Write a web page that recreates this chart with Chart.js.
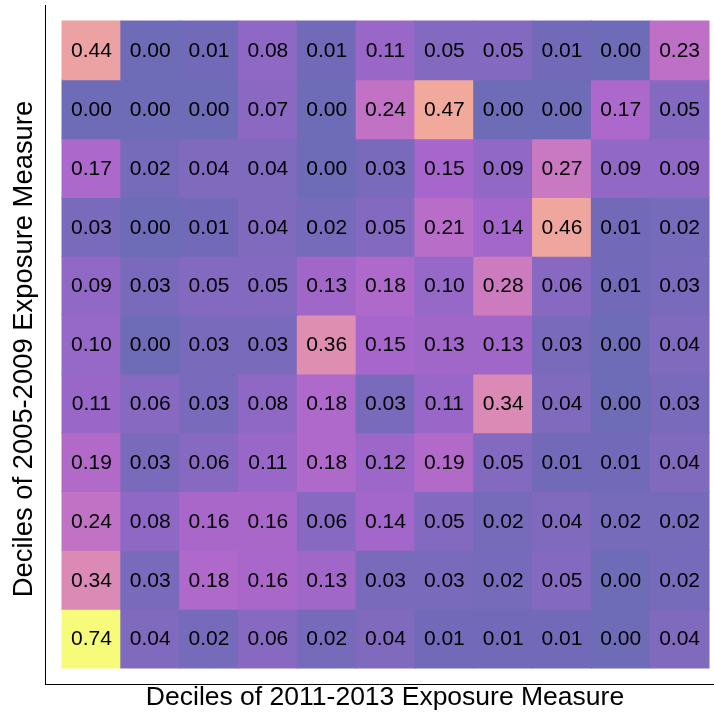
<!DOCTYPE html>
<html>
<head>
<meta charset="utf-8">
<script src="https://cdn.jsdelivr.net/npm/chart.js@4"></script>
<style>
html,body{margin:0;padding:0;background:#fff;}
#wrap{width:714px;height:713px;}
</style>
</head>
<body>
<div id="wrap"><canvas id="heat"></canvas></div>
<script>
/* DATA - rows listed top to bottom, columns left to right */
const cols=['1','2','3','4','5','6','7','8','9','10','11'];
const row1=[0.44,0.00,0.01,0.08,0.01,0.11,0.05,0.05,0.01,0.00,0.23];
const row2=[0.00,0.00,0.00,0.07,0.00,0.24,0.47,0.00,0.00,0.17,0.05];
const row3=[0.17,0.02,0.04,0.04,0.00,0.03,0.15,0.09,0.27,0.09,0.09];
const row4=[0.03,0.00,0.01,0.04,0.02,0.05,0.21,0.14,0.46,0.01,0.02];
const row5=[0.09,0.03,0.05,0.05,0.13,0.18,0.10,0.28,0.06,0.01,0.03];
const row6=[0.10,0.00,0.03,0.03,0.36,0.15,0.13,0.13,0.03,0.00,0.04];
const row7=[0.11,0.06,0.03,0.08,0.18,0.03,0.11,0.34,0.04,0.00,0.03];
const row8=[0.19,0.03,0.06,0.11,0.18,0.12,0.19,0.05,0.01,0.01,0.04];
const row9=[0.24,0.08,0.16,0.16,0.06,0.14,0.05,0.02,0.04,0.02,0.02];
const row10=[0.34,0.03,0.18,0.16,0.13,0.03,0.03,0.02,0.05,0.00,0.02];
const row11=[0.74,0.04,0.02,0.06,0.02,0.04,0.01,0.01,0.01,0.00,0.04];
const rows=[row1,row2,row3,row4,row5,row6,row7,row8,row9,row10,row11];
const xTitle='Deciles of 2011-2013 Exposure Measure';
const yTitle='Deciles of 2005-2009 Exposure Measure';

/* plasma colormap, faded toward white */
const plasma=[[13,8,135],[65,4,157],[106,0,168],[143,13,164],[177,42,144],[204,71,120],[225,100,98],[242,132,75],[252,166,54],[252,206,37],[240,249,33]];
const vmax=Math.max(...rows.flat());
function cmap(v){
  let t=Math.max(0,Math.min(1,v/vmax))*10;
  let i=Math.min(9,Math.floor(t)),f=t-i;
  const a=plasma[i],b=plasma[i+1];
  const c=[0,1,2].map(k=>a[k]+(b[k]-a[k])*f);
  const alpha=0.6;
  const m=c.map(x=>Math.round(x*alpha+255*(1-alpha)));
  return `rgb(${m[0]},${m[1]},${m[2]})`;
}

const n=rows.length;
const datasets=rows.map((r,i)=>({
  label:'row'+(i+1),
  data:r.map((v,j)=>({x:j+0.5,y:[n-1-i,n-i],v:v})),
  backgroundColor:r.map(v=>cmap(v)),
  borderWidth:0,
  inflateAmount:0.5,
  barPercentage:1,
  categoryPercentage:1,
  grouped:false
}));

const FONT='"Liberation Sans", Arial, sans-serif';
const cellLabels={
  id:'cellLabels',
  afterDatasetsDraw(chart){
    const ctx=chart.ctx;
    ctx.save();
    ctx.fillStyle='#000';
    ctx.font='21px '+FONT;
    ctx.textAlign='center';ctx.textBaseline='middle';
    chart.data.datasets.forEach((ds,di)=>{
      chart.getDatasetMeta(di).data.forEach((el,j)=>{
        const p=el.getCenterPoint();
        ctx.fillText(ds.data[j].v.toFixed(2),p.x,p.y+1);
      });
    });
    ctx.restore();
  }
};

// axis titles, centred a touch right/down like the original
const axisTitles={
  id:'axisTitles',
  afterDraw(chart){
    const ctx=chart.ctx,a=chart.chartArea;
    ctx.save();
    ctx.fillStyle='#000';
    ctx.textAlign='center';ctx.textBaseline='middle';
    ctx.font='26.5px '+FONT;
    ctx.fillText(xTitle,(a.left+a.right)/2+6,697.5);
    ctx.translate(24.7,(a.top+a.bottom)/2+4.5);
    ctx.rotate(-Math.PI/2);
    ctx.font='27.4px '+FONT;
    ctx.fillText(yTitle,0,0);
    ctx.restore();
  }
};

// integer ticks only, so bar width = one cell
const unitTicks=s=>{s.ticks=[];for(let k=0;k<=n;k++)s.ticks.push({value:k});};

new Chart(document.getElementById('heat'),{
  type:'bar',
  data:{labels:cols,datasets:datasets},
  options:{
    responsive:true,maintainAspectRatio:false,animation:false,
    layout:{padding:{top:5,right:1,left:45,bottom:29}},
    plugins:{legend:{display:false},tooltip:{enabled:false}},
    scales:{
      x:{type:'linear',min:-0.289,max:11.068,offset:false,afterBuildTicks:unitTicks,
        ticks:{display:false},grid:{display:false,drawTicks:false},
        border:{display:true,color:'#000',width:1}},
      y:{type:'linear',min:-0.272,max:11.272,afterBuildTicks:unitTicks,
        ticks:{display:false},grid:{display:false,drawTicks:false},
        border:{display:true,color:'#000',width:1}}
    }
  },
  plugins:[cellLabels,axisTitles]
});
</script>
</body>
</html>
